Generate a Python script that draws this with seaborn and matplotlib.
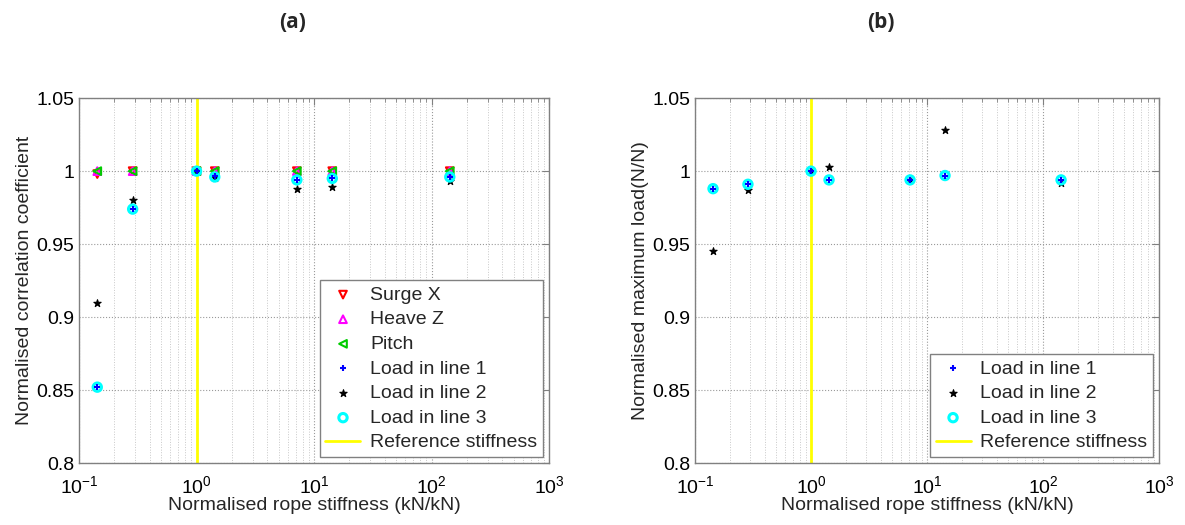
import numpy as np
import pandas as pd
import matplotlib
matplotlib.use("Agg")
import matplotlib.pyplot as plt
import seaborn as sns

# Normalised rope stiffness (kN/kN)
stiffness = [0.143, 0.286, 1.0, 1.43, 7.14, 14.3, 143.0]

# (a) normalised correlation coefficient
surge_x = [0.998, 1.000, 1.000, 1.000, 1.000, 1.000, 1.000]
heave_z = [1.000, 1.000, 1.000, 1.000, 1.000, 1.000, 1.000]
pitch = [1.000, 1.000, 1.000, 1.000, 1.000, 1.000, 1.000]
corr_line1 = [0.852, 0.974, 1.000, 0.997, 0.994, 0.995, 0.996]
corr_line2 = [0.910, 0.980, 1.000, 0.995, 0.988, 0.989, 0.993]
corr_line3 = [0.852, 0.974, 1.000, 0.996, 0.994, 0.995, 0.996]

# (b) normalised maximum load
load_line1 = [0.988, 0.991, 1.000, 0.994, 0.994, 0.997, 0.994]
load_line2 = [0.945, 0.987, 1.000, 1.003, 0.994, 1.028, 0.992]
load_line3 = [0.988, 0.991, 1.000, 0.994, 0.994, 0.997, 0.994]

ref_stiffness = 1.0

# marker / colour per series (MATLAB-like)
STYLE = {
    "Surge X": ("v", "#ff0000"),
    "Heave Z": ("^", "#ff00ff"),
    "Pitch": ("<", "#00cc00"),
    "Load in line 1": ("+", "#0000ff"),
    "Load in line 2": ("*", "#000000"),
    "Load in line 3": ("o", "#00ffff"),
}

sns.set_style("white")
plt.rcParams["font.family"] = ["Liberation Sans", "DejaVu Sans"]
plt.rcParams["mathtext.fontset"] = "custom"
plt.rcParams["mathtext.rm"] = "Liberation Sans"
plt.rcParams["mathtext.it"] = "Liberation Sans"


def draw_series(ax, name, yvals):
    marker, color = STYLE[name]
    df = pd.DataFrame({"x": stiffness, "y": yvals})
    if name == "Load in line 1":
        sns.scatterplot(data=df, x="x", y="y", ax=ax, marker="+", color=color,
                        s=22, linewidth=1.5, label=name, zorder=5)
    elif name == "Load in line 2":
        sns.scatterplot(data=df, x="x", y="y", ax=ax, marker="*", color=color,
                        edgecolor=color, s=30, linewidth=0.8, label=name, zorder=3)
    elif name == "Load in line 3":
        sns.scatterplot(data=df, x="x", y="y", ax=ax, marker="o", color=color,
                        facecolors="none", edgecolors=color, s=36, linewidth=2.2,
                        label=name, zorder=4)
    else:
        sns.scatterplot(data=df, x="x", y="y", ax=ax, marker=marker, color=color,
                        facecolors="none", edgecolors=color, s=30, linewidth=1.5,
                        label=name, zorder=3)


def style_axes(ax, ylabel):
    ax.set_xscale("log")
    ax.set_xlim(0.1, 1000)
    ax.set_ylim(0.8, 1.05)
    ax.set_yticks([0.8, 0.85, 0.9, 0.95, 1.0, 1.05])
    ax.set_yticklabels(["0.8", "0.85", "0.9", "0.95", "1", "1.05"])
    ax.grid(True, which="major", linestyle=":", color="#9a9a9a", linewidth=0.8)
    ax.grid(True, which="minor", linestyle=":", color="#c8c8c8", linewidth=0.7)
    ax.set_axisbelow(True)
    ax.tick_params(which="both", direction="in", labelsize=14, colors="#808080",
                   labelcolor="black", top=True, right=True)
    ax.tick_params(which="major", length=5)
    ax.tick_params(which="minor", length=3)
    ax.tick_params(axis="x", which="major", pad=9)
    for sp in ax.spines.values():
        sp.set_color("#808080")
        sp.set_linewidth(1.0)
    ax.set_xlabel("Normalised rope stiffness (kN/kN)", fontsize=14, labelpad=0)
    ax.set_ylabel(ylabel, fontsize=14, labelpad=2)


fig = plt.figure(figsize=(11.85, 5.25), dpi=100)
ax1 = fig.add_axes([0.0667, 0.118, 0.3966, 0.695])
ax2 = fig.add_axes([0.5865, 0.118, 0.3916, 0.695])

for name, vals in [("Surge X", surge_x), ("Heave Z", heave_z), ("Pitch", pitch),
                   ("Load in line 1", corr_line1), ("Load in line 2", corr_line2),
                   ("Load in line 3", corr_line3)]:
    draw_series(ax1, name, vals)
ax1.axvline(ref_stiffness, color="#ffff00", linewidth=2, label="Reference stiffness", zorder=2)

for name, vals in [("Load in line 1", load_line1), ("Load in line 2", load_line2),
                   ("Load in line 3", load_line3)]:
    draw_series(ax2, name, vals)
ax2.axvline(ref_stiffness, color="#ffff00", linewidth=2, label="Reference stiffness", zorder=2)

style_axes(ax1, "Normalised correlation coefficient")
style_axes(ax2, "Normalised maximum load(N/N)")

for ax in (ax1, ax2):
    leg = ax.legend(loc="lower right", fontsize=14, frameon=True, fancybox=False,
                    edgecolor="#808080", framealpha=1, handlelength=1.8,
                    handletextpad=0.5, labelspacing=0.36, borderpad=0.3,
                    borderaxespad=0.3)
    leg.get_frame().set_linewidth(1.0)

fig.text(0.247, 0.958, "(a)", ha="center", va="center", fontsize=15,
         fontweight="bold", family=["Open Sans", "DejaVu Sans"])
fig.text(0.743, 0.958, "(b)", ha="center", va="center", fontsize=15,
         fontweight="bold", family=["Open Sans", "DejaVu Sans"])

fig.savefig("out.png", dpi=100, facecolor="white")
